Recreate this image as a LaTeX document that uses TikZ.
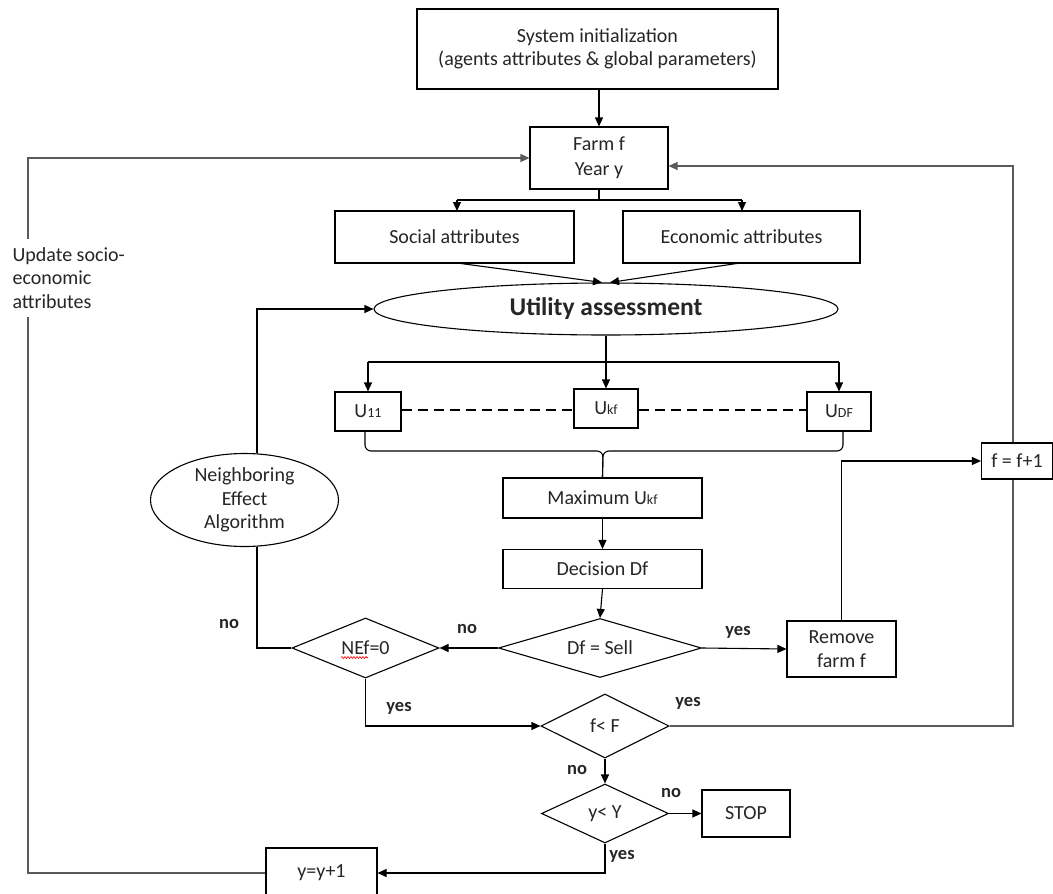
\documentclass[tikz,border=0pt]{standalone}
\usepackage{fontspec}
\setmainfont{Carlito}
\usetikzlibrary{arrows.meta,shapes.geometric,decorations.pathmorphing,calc}
\pgfdeclarelayer{bg}
\pgfsetlayers{bg,main}
\definecolor{txt}{RGB}{38,38,38}
\definecolor{lgray}{RGB}{90,90,90}
\newcommand{\sm}[1]{{\fontsize{14}{14}\selectfont #1}}
\begin{document}
\begin{tikzpicture}[x=1pt,y=-1pt,
  base/.style={draw=black, line width=1.1pt, fill=white, text=txt, inner sep=0pt, align=center, font=\fontsize{20}{23.5}\selectfont},
  box/.style={base, rectangle},
  dia/.style={base, diamond},
  ell/.style={base, ellipse},
  conn/.style={line width=1.1pt, draw=black},
  arr/.style={conn, -{Triangle[length=9pt,width=8pt]}},
  loopline/.style={line width=1.1pt, draw=lgray},
  lab/.style={text=txt, font=\bfseries\fontsize{18.5}{18.5}\selectfont, inner sep=0pt}
]
\useasboundingbox (0,0) rectangle (1053,894);

% nodes
\node[box, minimum width=361pt, minimum height=80pt] (init) at (597.5,49) {System initialization\\(agents attributes \& global parameters)};
\node[box, minimum width=138pt, minimum height=62pt, font=\fontsize{20}{25}\selectfont] (farm) at (599,158) {Farm f\\Year y};
\node[box, minimum width=239pt, minimum height=52pt] (social) at (454.5,237) {Social attributes};
\node[box, minimum width=237pt, minimum height=52pt] (econ) at (741.5,237) {Economic attributes};
\node[ell, minimum width=464pt, minimum height=52pt, font=\bfseries\fontsize{25.5}{25.5}\selectfont] (util) at (606,309) {Utility assessment};
\node[box, minimum width=66pt, minimum height=39pt] (u11) at (368,411.5) {U\sm{11}};
\node[box, minimum width=64pt, minimum height=39pt] (ukf) at (606,408.5) {U\sm{kf}};
\node[box, minimum width=64pt, minimum height=39pt] (udf) at (839,411.5) {U\sm{DF}};
\node[box, minimum width=199pt, minimum height=40pt] (maxu) at (602.5,498) {Maximum U\sm{kf}};
\node[box, minimum width=199pt, minimum height=39pt] (dec) at (602.5,569) {Decision Df};
\node[dia, shape aspect=3.4, minimum width=203pt, minimum height=59pt] (dfsell) at (600,648) {Df = Sell};
\node[dia, shape aspect=2.45, minimum width=147pt, minimum height=60pt] (nef) at (365.5,648) {NEf=0};
\node[box, minimum width=109pt, minimum height=56pt] (remove) at (841.5,649) {Remove\\farm f};
\node[ell, minimum width=188pt, minimum height=93pt,
  label={[text=txt, align=center, font=\fontsize{20}{23.5}\selectfont]center:Neighboring\\Effect\\Algorithm}] (neigh) at (244.5,500) {};
\node[dia, shape aspect=2, minimum width=128pt, minimum height=64pt] (flt) at (605,726) {f< F};
\node[dia, shape aspect=2.15, minimum width=127pt, minimum height=59pt] (ylt) at (605,813.5) {y< Y};
\node[box, minimum width=88pt, minimum height=47pt] (stop) at (746,813.5) {STOP};
\node[box, minimum width=111pt, minimum height=50pt] (yy1) at (321.5,873) {y=y+1};

% spell-check underline
\draw[red, line width=0.6pt, decorate, decoration={snake, amplitude=1pt, segment length=3pt}]
  ($(nef.center)+(-24.5,9.5)$) -- ($(nef.center)+(2.5,9.5)$);

% coordinates for loops
\coordinate (lc) at (28,158);
\coordinate (rc) at (1013,166);

\begin{pgfonlayer}{bg}
  \draw[loopline, -{Triangle[length=9pt,width=8pt]}] (yy1.west) -| (lc) -- (farm.west);
  \draw[loopline, -{Triangle[length=9pt,width=8pt]}] (flt.east) -| (rc) -- ([yshift=-8pt]farm.east);
\end{pgfonlayer}

\node[box, fill=white, draw=none, anchor=west, align=left, inner xsep=2pt, inner ysep=8pt] (upd) at (10,278) {Update socio-\\economic\\attributes};

% f = f+1 box (on top of loop line)
\node[box, minimum width=71pt, minimum height=36pt] (fplus) at (1017,461) {f = f+1};

% connectors
\draw[arr] (init.south) -- (farm.south |- init.south) -- (farm.north);
\coordinate (split) at (599,200);
\draw[conn] (farm.south) -- (split);
\draw[conn] (457,200) -- (742,200);
\draw[arr] (457,200) -- (457,211);
\draw[arr] (742,200) -- (742,211);
\draw[arr] (457,263) -- ($(util.north)+(-4,0)$);
\draw[arr] (740,263) -- ($(util.north)+(4,0)$);

\coordinate (hs) at (0,362);
\draw[arr] (util.south) -- (ukf.north);
\draw[conn] (u11.north |- hs) -- (udf.north |- hs);
\draw[arr] (u11.north |- hs) -- (u11.north);
\draw[arr] (udf.north |- hs) -- (udf.north);

\coordinate (dl) at (0,410);
\draw[conn, dash pattern=on 10pt off 6pt] (u11.east |- dl) -- (ukf.west |- dl);
\draw[conn, dash pattern=on 10pt off 6pt] (ukf.east |- dl) -- (udf.west |- dl);

\coordinate (br) at (603,451);
\draw[conn, rounded corners=6pt] ([xshift=-3pt]u11.south) |- (br) -- (maxu.north);
\draw[conn, rounded corners=6pt] ([xshift=4pt]udf.south) |- (br) -- (maxu.north);

\draw[arr] (maxu.south) -- (dec.north);
\draw[arr] (dec.south) -- (dfsell.north);
\draw[arr] (dfsell.west) -- (nef.east);
\draw[arr] (dfsell.east) -- (remove.west);
\draw[arr] (remove.north) |- (fplus.west);

\draw[conn] (nef.west) -| ([xshift=12.5pt]neigh.south);
\draw[arr] ([xshift=12.5pt]neigh.north) |- (util.west);

\draw[arr] (nef.south) |- (flt.west);
\draw[arr] (flt.south) -- (ylt.north);
\draw[arr] (ylt.east) -- (stop.west);
\draw[arr] (ylt.south) |- (yy1.east);

% labels
\node[lab] (l1) at (467,629) {no};
\node[lab] (l2) at (738,632) {yes};
\node[lab] (l3) at (229,624) {no};
\node[lab] (l4) at (399,708) {yes};
\node[lab] (l5) at (688,703) {yes};
\node[lab] (l6) at (577,770) {no};
\node[lab] (l7) at (671,793) {no};
\node[lab] (l8) at (622,856) {yes};
\end{tikzpicture}
\end{document}
